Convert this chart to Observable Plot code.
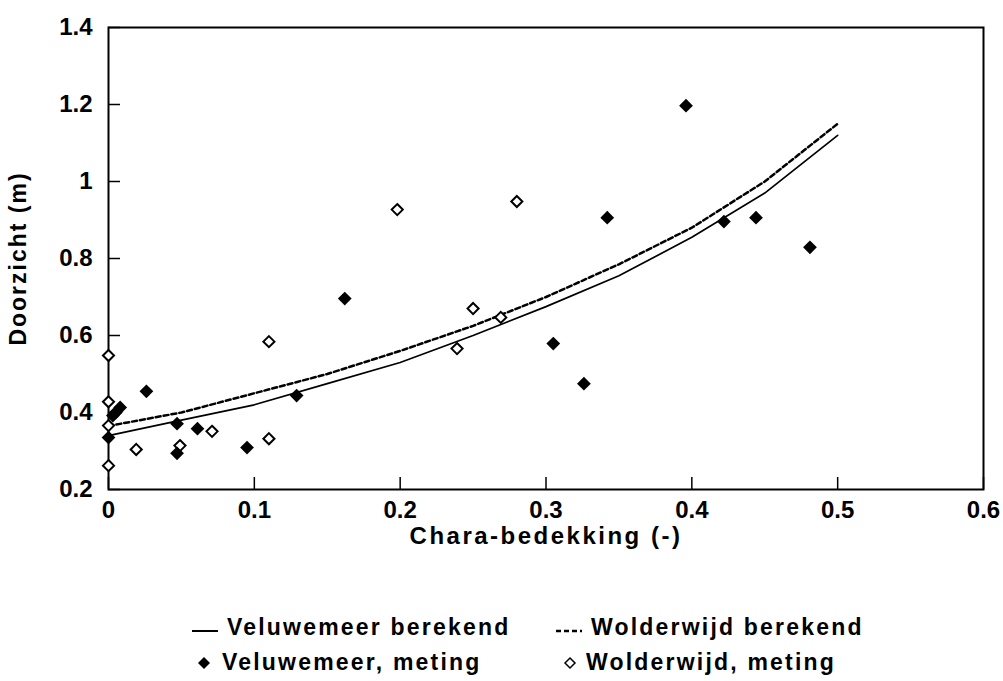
<!DOCTYPE html>
<html>
<head>
<meta charset="utf-8">
<script src="https://cdn.jsdelivr.net/npm/d3@7"></script>
<script src="https://cdn.jsdelivr.net/npm/@observablehq/plot@0.6"></script>
<style>
  body { margin: 0; background: #fff; }
  #wrap { position: relative; width: 1003px; height: 681px; background: #fff; font-family: "Liberation Sans", Arial, sans-serif; }
  #chart svg { display: block; }
  g[aria-label="x-axis label"] text { letter-spacing: 2.5px; }
  g[aria-label="y-axis label"] text { letter-spacing: 2px; }
  .lt { position: absolute; font-size: 23px; line-height: 23px; font-weight: bold; letter-spacing: 2.2px; color: #000; white-space: nowrap; }
  .ls { position: absolute; }
</style>
</head>
<body>
<div id="wrap">
  <div id="chart"></div>
</div>
<script>
// ---- data ----
const xTicks = [0, 0.1, 0.2, 0.3, 0.4, 0.5, 0.6];
const yTicks = [0.2, 0.4, 0.6, 0.8, 1, 1.2, 1.4];

// computed curves (Chara cover vs. transparency)
const coverSteps      = [0, 0.05, 0.1, 0.15, 0.2, 0.25, 0.3, 0.35, 0.4, 0.45, 0.5];
const veluwemeerCalc  = [0.34, 0.38, 0.42, 0.475, 0.53, 0.60, 0.675, 0.755, 0.855, 0.97, 1.12];
const wolderwijdCalc  = [0.365, 0.40, 0.45, 0.50, 0.56, 0.625, 0.70, 0.785, 0.88, 1.00, 1.15];

// measurements
const veluwemeerMeasX = [0, 0.003, 0.005, 0.008, 0.026, 0.047, 0.047, 0.061, 0.095, 0.129, 0.162, 0.305, 0.326, 0.342, 0.396, 0.422, 0.444, 0.481];
const veluwemeerMeasY = [0.335, 0.392, 0.40, 0.413, 0.455, 0.371, 0.294, 0.358, 0.309, 0.444, 0.696, 0.579, 0.475, 0.906, 1.197, 0.896, 0.906, 0.829];
const wolderwijdMeasX = [0, 0, 0, 0, 0.019, 0.049, 0.071, 0.110, 0.110, 0.198, 0.239, 0.250, 0.269, 0.280];
const wolderwijdMeasY = [0.548, 0.428, 0.366, 0.262, 0.304, 0.314, 0.351, 0.332, 0.584, 0.927, 0.566, 0.670, 0.647, 0.948];

const legendLabels = ["Veluwemeer berekend", "Wolderwijd berekend", "Veluwemeer, meting", "Wolderwijd, meting"];
const xLabel = "Chara-bedekking (-)";
const yLabel = "Doorzicht (m)";

// ---- tables ----
const velCalc = coverSteps.map((x, i) => ({x, y: veluwemeerCalc[i]}));
const wolCalc = coverSteps.map((x, i) => ({x, y: wolderwijdCalc[i]}));
const velMeas = veluwemeerMeasX.map((x, i) => ({x, y: veluwemeerMeasY[i]}));
const wolMeas = wolderwijdMeasX.map((x, i) => ({x, y: wolderwijdMeasY[i]}));

const fmt = d => String(+d.toFixed(2));

const chart = Plot.plot({
  width: 1003,
  height: 584,
  marginLeft: 108,
  marginRight: 20,
  marginTop: 27,
  marginBottom: 95,
  style: { fontFamily: '"Liberation Sans", Arial, sans-serif', fontWeight: "bold", fontSize: "24px", color: "#000", background: "#fff", overflow: "visible" },
  x: { domain: [0, 0.6] },
  y: { domain: [0.2, 1.4] },
  marks: [
    Plot.axisX({ ticks: xTicks, tickFormat: fmt, tickSize: -12, tickPadding: 23, strokeWidth: 1.5, label: null, fontSize: 24 }),
    Plot.axisY({ ticks: yTicks, tickFormat: fmt, tickSize: -12, tickPadding: 28, strokeWidth: 1.5, label: null, fontSize: 24 }),
    Plot.axisX({ ticks: [], tickSize: 0, label: xLabel, labelAnchor: "center", labelArrow: "none", labelOffset: 54, fontSize: 24 }),
    Plot.axisY({ ticks: [], tickSize: 0, label: yLabel, labelAnchor: "center", labelArrow: "none", labelOffset: 99, fontSize: 23 }),
    Plot.frame({ stroke: "#000", strokeWidth: 2 }),
    Plot.line(velCalc, { x: "x", y: "y", stroke: "#000", strokeWidth: 1.7 }),
    Plot.line(wolCalc, { x: "x", y: "y", stroke: "#000", strokeWidth: 2.5, strokeDasharray: "5,3" }),
    Plot.dot(wolMeas, { x: "x", y: "y", symbol: "diamond2", r: 5, fill: "#fff", stroke: "#000", strokeWidth: 2 }),
    Plot.dot(velMeas, { x: "x", y: "y", symbol: "diamond2", r: 6.2, fill: "#000", stroke: "none" })
  ]
});
document.getElementById("chart").appendChild(chart);

// ---- legend (HTML below the svg) ----
const wrap = document.getElementById("wrap");
function addText(label, left, top) {
  const s = document.createElement("span");
  s.className = "lt"; s.textContent = label;
  s.style.left = left + "px"; s.style.top = top + "px";
  wrap.appendChild(s);
}
function addSym(svg, left, top, w, h) {
  const d = document.createElement("div");
  d.className = "ls"; d.style.left = left + "px"; d.style.top = top + "px";
  d.innerHTML = `<svg width="${w}" height="${h}">${svg}</svg>`;
  wrap.appendChild(d);
}
const row1 = 616, row2 = 651;
addSym('<line x1="0" x2="26" y1="8" y2="8" stroke="#000" stroke-width="2"/>', 192, row1 + 7, 30, 16);
addText(legendLabels[0], 227, row1);
addSym('<line x1="0" x2="26" y1="8" y2="8" stroke="#000" stroke-width="2.5" stroke-dasharray="5,3"/>', 556, row1 + 7, 30, 16);
addText(legendLabels[1], 591, row1);
addSym('<path d="M7,1 L13,7 L7,13 L1,7 Z" fill="#000"/>', 197, row2 + 5, 16, 16);
addText(legendLabels[2], 222, row2);
addSym('<path d="M7,2 L12,7 L7,12 L2,7 Z" fill="#fff" stroke="#000" stroke-width="1.5"/>', 563, row2 + 5, 16, 16);
addText(legendLabels[3], 586, row2);
</script>
</body>
</html>
